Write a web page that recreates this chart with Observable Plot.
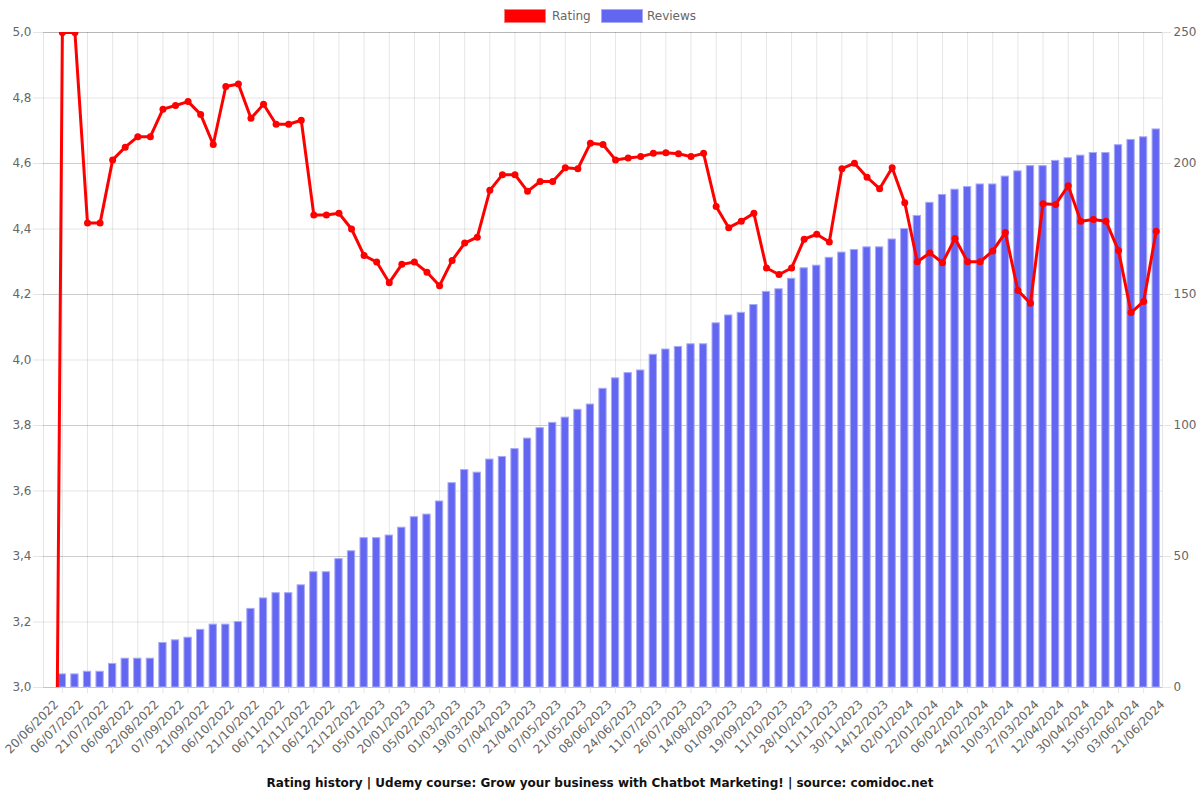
<!DOCTYPE html>
<html>
<head>
<meta charset="utf-8">
<script src="https://cdn.jsdelivr.net/npm/d3@7"></script>
<script src="https://cdn.jsdelivr.net/npm/@observablehq/plot@0.6"></script>
<style>
  html, body { margin: 0; padding: 0; background: #fff; }
  body { font-family: "DejaVu Sans", sans-serif; width: 1200px; }
  #legend { position: relative; height: 24px; font-size: 12px; color: #666; }
  #legend .box { position: absolute; top: 9px; width: 42px; height: 14px; box-sizing: border-box; }
  #legend .lab { position: absolute; top: 8px; line-height: 16px; }
  #chart svg { display: block; }
  #caption { height: 26px; line-height: 18px; text-align: center; font-weight: bold; font-size: 12px; color: #111; }
</style>
</head>
<body>
<div id="legend"></div>
<div id="chart"></div>
<div id="caption"></div>
<script>
// ---- data ----
// position 0 is the first (empty) record: rating 0, 0 reviews
const ratings = [0,
  5.0, 5.0, 4.418, 4.418, 4.611, 4.650, 4.682, 4.682, 4.766, 4.777,
  4.789, 4.750, 4.658, 4.835, 4.843, 4.738, 4.781, 4.720, 4.720, 4.732,
  4.443, 4.443, 4.448, 4.400, 4.319, 4.299, 4.236, 4.292, 4.299, 4.268,
  4.227, 4.304, 4.357, 4.375, 4.518, 4.566, 4.566, 4.515, 4.545, 4.545,
  4.587, 4.584, 4.662, 4.658, 4.611, 4.617, 4.621, 4.631, 4.633, 4.630,
  4.621, 4.631, 4.469, 4.404, 4.424, 4.448, 4.281, 4.261, 4.281, 4.369,
  4.384, 4.360, 4.584, 4.601, 4.558, 4.523, 4.587, 4.480, 4.300, 4.327,
  4.297, 4.371, 4.300, 4.300, 4.333, 4.389, 4.212, 4.173, 4.477, 4.475,
  4.532, 4.424, 4.429, 4.424, 4.334, 4.145, 4.179, 4.393];

const reviews = [0,
  5, 5, 6, 6, 9, 11, 11, 11, 17, 18,
  19, 22, 24, 24, 25, 30, 34, 36, 36, 39,
  44, 44, 49, 52, 57, 57, 58, 61, 65, 66,
  71, 78, 83, 82, 87, 88, 91, 95, 99, 101,
  103, 106, 108, 114, 118, 120, 121, 127, 129, 130,
  131, 131, 139, 142, 143, 146, 151, 152, 156, 160,
  161, 164, 166, 167, 168, 168, 171, 175, 180, 185,
  188, 190, 191, 192, 192, 195, 197, 199, 199, 201,
  202, 203, 204, 204, 207, 209, 210, 213];

const tickLabels = [
  "20/06/2022","06/07/2022","21/07/2022","06/08/2022","22/08/2022","07/09/2022",
  "21/09/2022","06/10/2022","21/10/2022","06/11/2022","21/11/2022","06/12/2022",
  "21/12/2022","05/01/2023","20/01/2023","05/02/2023","01/03/2023","19/03/2023",
  "07/04/2023","21/04/2023","07/05/2023","21/05/2023","08/06/2023","24/06/2023",
  "11/07/2023","26/07/2023","14/08/2023","01/09/2023","19/09/2023","11/10/2023",
  "28/10/2023","11/11/2023","30/11/2023","14/12/2023","02/01/2024","22/01/2024",
  "06/02/2024","24/02/2024","10/03/2024","27/03/2024","12/04/2024","30/04/2024",
  "15/05/2024","03/06/2024","21/06/2024"];

const ratingTicks = [3.0, 3.2, 3.4, 3.6, 3.8, 4.0, 4.2, 4.4, 4.6, 4.8, 5.0];
const reviewTicks = [0, 50, 100, 150, 200, 250];

const seriesNames = ["Rating", "Reviews"];
const seriesColors = ["#ff0000", "#6366f1"];
const seriesBorders = ["#ff7a7a", "#a9abf7"];
const titleText = "Rating history | Udemy course: Grow your business with Chatbot Marketing! | source: comidoc.net";

// ---- build ----
const data = ratings.map((r, k) => ({k, r, v: reviews[k]}));
const toY = v => 3 + v / 125;            // reviews (0..250) onto rating axis (3..5)
const fromY = y => Math.round((y - 3) * 125);
const tickPos = d3.range(1, 88, 2);
const labelPos = tickLabels.map((_, j) => 1 + 2 * j);

const chart = Plot.plot({
  width: 1200,
  height: 750,
  marginLeft: 43,
  marginRight: 38,
  marginTop: 8,
  marginBottom: 87,
  x: {type: "linear", domain: [-0.5, 88.5], axis: null},
  y: {domain: [3, 5], axis: null},
  style: {fontFamily: "DejaVu Sans, sans-serif", fontSize: "12px", background: "#fff"},
  marks: [
    Plot.gridX(tickPos, {stroke: "#000", strokeOpacity: 0.1}),
    Plot.gridY(ratingTicks, {stroke: "#000", strokeOpacity: 0.1}),
    Plot.gridY(reviewTicks.map(toY), {stroke: "#000", strokeOpacity: 0.1}),
    Plot.frame({stroke: "#000", strokeOpacity: 0.1}),
    Plot.rectY(data.filter(d => d.v > 0), {
      x1: d => d.k - 0.29, x2: d => d.k + 0.29,
      y1: 3, y2: d => toY(d.v),
      fill: seriesColors[1], stroke: seriesBorders[1], strokeWidth: 1
    }),
    Plot.ruleY([3], {stroke: "#c4c4c4"}),
    Plot.line(data, {x: "k", y: "r", stroke: seriesColors[0], strokeWidth: 3, clip: true}),
    Plot.dot(data, {x: "k", y: "r", r: 3.5, fill: seriesColors[0], stroke: null, clip: true}),
    Plot.axisY(ratingTicks, {anchor: "left", tickSize: 10, tickPadding: 2, label: null,
      stroke: "#e5e5e5", fill: "#666", tickFormat: d => d.toFixed(1).replace(".", ",")}),
    Plot.axisY(reviewTicks.map(toY), {anchor: "right", tickSize: 8, tickPadding: 3, label: null,
      stroke: "#e5e5e5", fill: "#666", tickFormat: d => String(fromY(d))}),
    Plot.axisX(tickPos, {anchor: "bottom", tickSize: 6, label: null, stroke: "#e5e5e5", tickFormat: () => ""}),
    Plot.axisX(labelPos, {anchor: "bottom", tickSize: 0, tickPadding: 15, tickRotate: -45, label: null,
      fill: "#666", dx: -6, tickFormat: d => tickLabels[(d - 1) / 2]})
  ]
});
document.getElementById("chart").appendChild(chart);

// legend
const legend = document.getElementById("legend");
const legendX = [[504, 552], [601, 647]];
seriesNames.forEach((name, i) => {
  const b = document.createElement("div");
  b.className = "box";
  b.style.left = legendX[i][0] + "px";
  b.style.background = seriesColors[i];
  b.style.border = "1px solid " + seriesBorders[i];
  legend.appendChild(b);
  const t = document.createElement("div");
  t.className = "lab";
  t.style.left = legendX[i][1] + "px";
  t.textContent = name;
  legend.appendChild(t);
});
document.getElementById("caption").textContent = titleText;
</script>
</body>
</html>
